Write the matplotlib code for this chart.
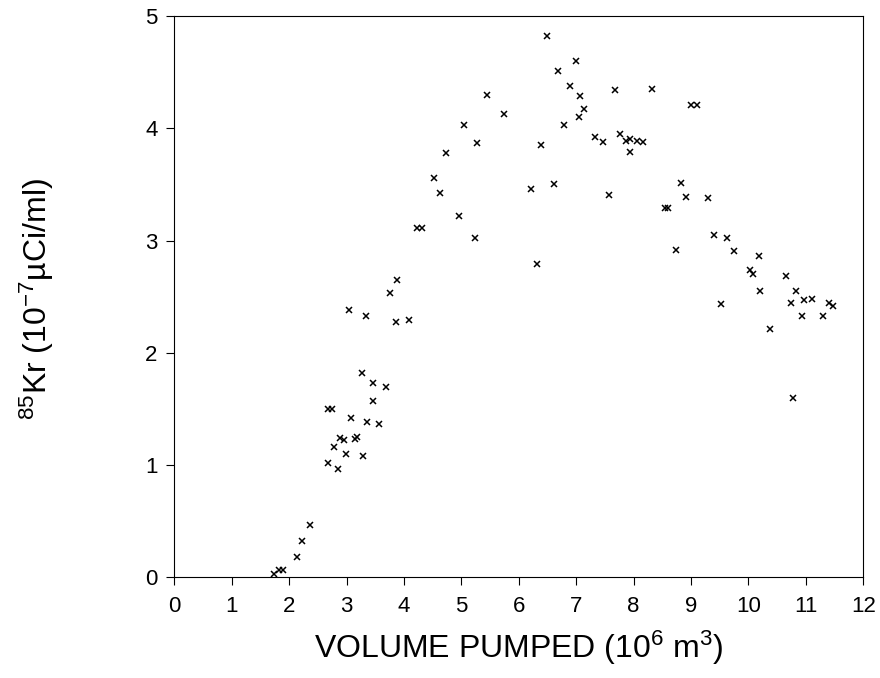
import matplotlib
matplotlib.use("Agg")
import matplotlib.pyplot as plt

plt.rcParams['font.family'] = ['Liberation Sans', 'DejaVu Sans']
plt.rcParams['mathtext.default'] = 'regular'

# Volume pumped (10^6 m^3) and 85Kr (10^-7 uCi/ml)
volume = [
    1.73, 1.82, 1.90, 2.13, 2.23, 2.37,
    2.67, 2.86, 2.99, 3.29, 2.78, 2.89, 2.95, 3.15, 3.18, 3.08, 3.36, 3.57,
    2.68, 2.74, 3.46, 3.27, 3.46, 3.68,
    3.05, 3.34, 3.86, 4.09, 3.75, 3.88,
    4.22, 4.32, 5.23, 4.96, 4.62, 4.53, 4.74, 5.27, 5.04, 5.75, 5.45,
    6.49, 6.99, 6.68, 6.90, 7.06, 7.67, 8.32, 9.00, 9.10, 7.14, 7.05, 6.78,
    6.39, 7.32, 7.46, 7.76, 7.86, 7.94, 8.06, 8.17, 7.94,
    6.21, 6.62, 7.58, 8.83, 8.91, 9.30, 8.55, 8.60,
    9.40, 9.62, 9.74, 8.73, 10.19, 10.08, 10.02, 10.66, 10.21, 10.82,
    10.74, 10.96, 11.11, 11.40, 11.47, 9.53, 10.93, 11.30, 10.37, 6.32, 10.78,
]
kr85 = [
    0.03, 0.06, 0.06, 0.18, 0.32, 0.46,
    1.02, 0.96, 1.10, 1.08, 1.16, 1.24, 1.22, 1.23, 1.25, 1.42, 1.38, 1.36,
    1.50, 1.50, 1.57, 1.82, 1.73, 1.69,
    2.38, 2.33, 2.27, 2.29, 2.53, 2.65,
    3.11, 3.11, 3.02, 3.22, 3.42, 3.56, 3.78, 3.87, 4.03, 4.13, 4.30,
    4.82, 4.60, 4.51, 4.38, 4.29, 4.34, 4.35, 4.21, 4.21, 4.17, 4.10, 4.03,
    3.85, 3.92, 3.88, 3.95, 3.89, 3.91, 3.89, 3.88, 3.79,
    3.46, 3.50, 3.41, 3.51, 3.39, 3.38, 3.29, 3.29,
    3.05, 3.02, 2.91, 2.92, 2.86, 2.70, 2.74, 2.68, 2.55, 2.55,
    2.44, 2.47, 2.48, 2.44, 2.42, 2.43, 2.33, 2.33, 2.21, 2.79, 1.60,
]
x_ticks = list(range(0, 13))
y_ticks = list(range(0, 6))

fig = plt.figure(figsize=(8.8, 6.78), dpi=100)
ax = fig.add_axes([0.198, 0.149, 0.783, 0.827])

ax.plot(volume, kr85, linestyle='none', marker='x', markersize=4.5,
        markeredgewidth=1.1, color='black')

ax.set_xlim(0, 12)
ax.set_ylim(0, 5)
ax.set_xticks(x_ticks)
ax.set_yticks(y_ticks)
ax.tick_params(direction='out', length=6, width=0.8, labelsize=16)
ax.tick_params(axis='x', pad=8)
ax.tick_params(axis='y', pad=6)
for s in ax.spines.values():
    s.set_linewidth(0.8)

ax.set_xlabel('VOLUME PUMPED (10$^{6}$ m$^{3}$)', fontsize=23, labelpad=8)
ax.set_ylabel('$^{85}$Kr (10$^{-7}$µCi/ml)', fontsize=23, labelpad=0)
ax.yaxis.set_label_coords(-0.172, 0.495)

fig.savefig('out.png', dpi=100)
